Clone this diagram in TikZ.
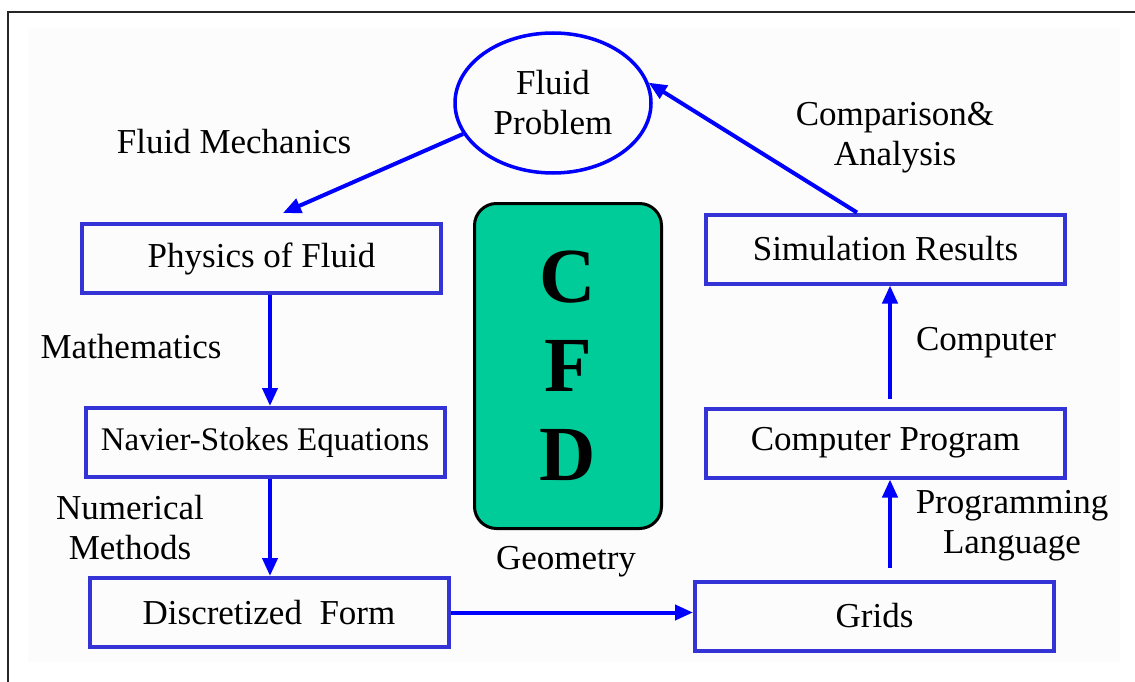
\documentclass[tikz,border=0pt]{standalone}
\usepackage{fontspec}
\setmainfont{Liberation Serif}
\usetikzlibrary{arrows.meta,shapes.geometric}
\definecolor{boxblue}{RGB}{51,51,214}
\definecolor{arrowblue}{RGB}{0,0,255}
\definecolor{cfdgreen}{RGB}{0,204,153}
\definecolor{pagegray}{RGB}{252,252,252}
\tikzset{
  stepbox/.style={draw=boxblue,line width=4pt,minimum width=359pt,minimum height=69pt,inner sep=0pt},
  flow/.style={draw=arrowblue,line width=4pt,-{Triangle[length=18pt,width=15pt]}},
  lbl/.style={align=center,inner sep=0pt},
}
\begin{document}
\begin{tikzpicture}[x=1pt,y=-1pt,font=\fontsize{35}{40}\selectfont]
  \useasboundingbox (0,0) rectangle (1135,682);
  \fill[pagegray] (28,28) rectangle (1120,662);
  \draw[line width=2pt,black!85] (8,682) -- (8,12) -- (1135,12);

  \node[ellipse,draw=arrowblue,line width=3.5pt,minimum width=196pt,minimum height=140pt,
        inner sep=0pt,align=center] (prob) at (553,103) {Fluid\\Problem};
  \node[rounded corners=22pt,draw=black,line width=3pt,fill=cfdgreen,minimum width=187pt,
        minimum height=325pt,align=center,font=\fontsize{78}{89}\selectfont\bfseries] (cfd) at (568,366) {C\\F\\D};

  \node[stepbox] (phys)  at (261.5,258.5) {Physics of Fluid};
  \node[stepbox,font=\fontsize{33}{40}\selectfont] (nse) at (265,442.5) {Navier-Stokes Equations};
  \node[stepbox] (disc)  at (269,612.5) {Discretized~~Form};
  \node[stepbox] (sim)   at (885.5,249) {Simulation Results};
  \node[stepbox] (prog)  at (885.5,443) {Computer Program};
  \node[stepbox] (grids) at (874.5,616) {Grids};

  \node[lbl] (mech) at (234,142) {Fluid Mechanics};
  \node[lbl] (math) at (131,347) {Mathematics};
  \node[lbl] (num)  at (130,528) {Numerical\\Methods};
  \node[lbl] (geo)  at (566,562) {Geometry};
  \node[lbl] (comp) at (895,138) {Comparison\&\\Analysis};
  \node[lbl] (cpu)  at (986,343) {Computer};
  \node[lbl] (lang) at (1012,526) {Programming\\Language};

  \coordinate (lcol) at (270,0);
  \coordinate (rcol) at (890,0);
  \coordinate (simout) at (857,0);
  \coordinate (physin) at (283,213);

  \draw[flow] (prob.199) -- (physin);
  \draw[flow] (phys.south -| lcol) -- (nse.north -| lcol);
  \draw[flow] (nse.south -| lcol) -- (disc.north -| lcol);
  \draw[flow] (disc.east) -- (disc.east -| grids.west);
  \draw[flow,shorten <=12pt] (grids.north -| rcol) -- (prog.south -| rcol);
  \draw[flow,shorten <=8pt] (prog.north -| rcol) -- (sim.south -| rcol);
  \draw[flow] (sim.north -| simout) -- (prob.12);
\end{tikzpicture}
\end{document}
